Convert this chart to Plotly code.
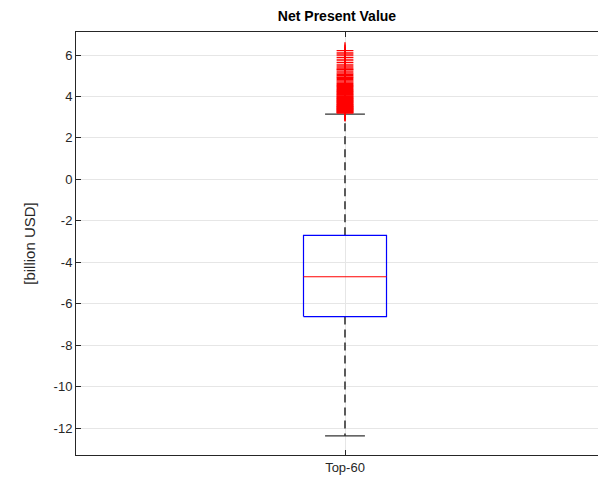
import plotly.graph_objects as go

# ---- data (billion USD) ----
category = "Top-60"
q1 = -6.62
median = -4.70
q3 = -2.70
lower_whisker = -12.38
upper_whisker = 3.15
outliers = [3.20, 3.23, 3.26, 3.29, 3.32, 3.35, 3.38, 3.41, 3.44, 3.47, 3.50, 3.53,
            3.56, 3.60, 3.63, 3.66, 3.70, 3.73, 3.77, 3.80, 3.84, 3.88, 3.91, 3.95,
            3.99, 4.03, 4.07, 4.11, 4.15, 4.20, 4.24, 4.29, 4.33, 4.38, 4.43, 4.48,
            4.53, 4.58, 4.63, 4.69, 4.75, 4.81, 4.87, 4.93, 5.00, 5.07, 5.14, 5.22,
            5.30, 5.33, 5.42, 5.52, 5.64, 5.76, 5.88, 6.00, 6.10, 6.21]
y_ticks = [-12, -10, -8, -6, -4, -2, 0, 2, 4, 6]

xc = 1
bw = 0.15   # box half width
cw = 0.072  # cap half width

fig = go.Figure()

# whiskers (dashed)
for a, b in ((q3, upper_whisker), (q1, lower_whisker)):
    fig.add_trace(go.Scatter(x=[xc, xc], y=[a, b], mode="lines",
                             line=dict(color="#5a5a5a", width=2, dash="8px,5px"),
                             hoverinfo="skip", showlegend=False))
# caps
for v in (upper_whisker, lower_whisker):
    fig.add_trace(go.Scatter(x=[xc - cw, xc + cw], y=[v, v], mode="lines",
                             line=dict(color="#333333", width=1.2),
                             hoverinfo="skip", showlegend=False))
# box
fig.add_trace(go.Scatter(x=[xc - bw, xc + bw, xc + bw, xc - bw, xc - bw],
                         y=[q1, q1, q3, q3, q1], mode="lines",
                         line=dict(color="#0000ff", width=1.2),
                         hoverinfo="skip", showlegend=False))
# median
fig.add_trace(go.Scatter(x=[xc - bw, xc + bw], y=[median, median], mode="lines",
                         line=dict(color="#ff0000", width=1.2),
                         hoverinfo="skip", showlegend=False))
# outliers
fig.add_trace(go.Scatter(x=[xc] * len(outliers), y=outliers, mode="markers",
                         marker=dict(symbol="cross-thin", size=12,
                                     line=dict(color="#ff0000", width=1.4)),
                         showlegend=False))

font = "Liberation Sans, Arial, Helvetica, sans-serif"
fig.update_layout(
    width=598, height=485,
    margin=dict(l=76, r=0, t=32, b=30),
    paper_bgcolor="white", plot_bgcolor="white",
    font=dict(family=font, size=13, color="#262626"),
    title=dict(text="<b>Net Present Value</b>", x=0.5, xref="paper",
               xanchor="center", y=0.967, yanchor="middle",
               font=dict(size=14, color="#000000")),
)
fig.update_xaxes(
    range=[1 - 269 / 276.7, 1 + 253 / 276.7],
    tickvals=[xc], ticktext=[category],
    showgrid=True, gridcolor="#e6e6e6", gridwidth=1,
    showline=True, linecolor="#262626", linewidth=1, mirror="ticks",
    ticks="inside", ticklen=5, tickcolor="#262626",
    zeroline=False, tickfont=dict(size=13, color="#262626"),
)
fig.update_yaxes(
    range=[-13.3, 7.11],
    tickvals=y_ticks, ticktext=[str(v) for v in y_ticks],
    showgrid=True, gridcolor="#e6e6e6", gridwidth=1,
    showline=True, linecolor="#262626", linewidth=1, mirror=False,
    ticks="inside", ticklen=5, tickcolor="#262626",
    zeroline=False, tickfont=dict(size=13, color="#262626"),
    title=dict(text="[billion USD]", font=dict(size=15, color="#262626"), standoff=14),
)

fig.write_html("out.html", config={"displayModeBar": False},
               post_script="document.body.style.margin='0';document.body.style.overflow='hidden';")
